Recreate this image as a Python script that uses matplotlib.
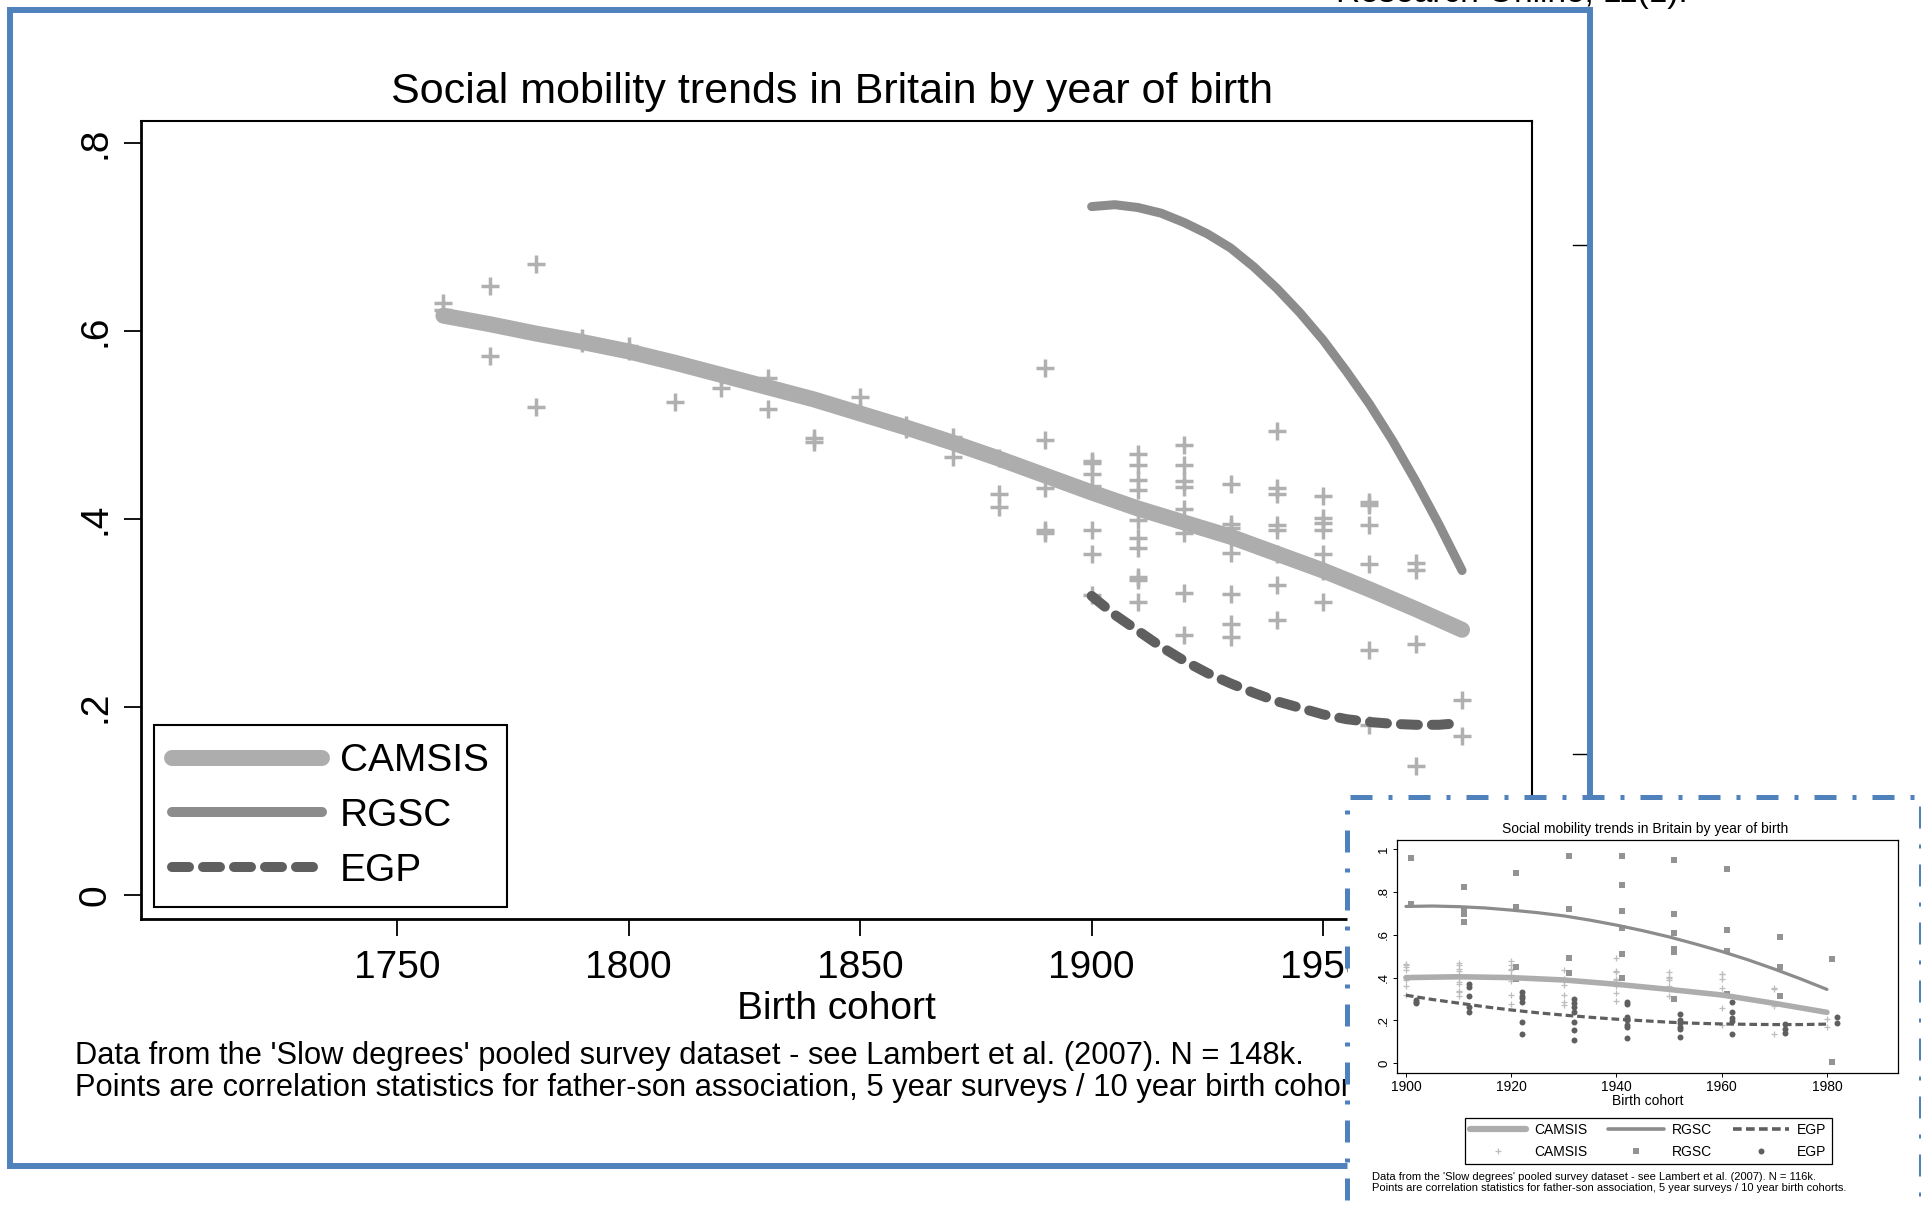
import matplotlib
matplotlib.use("Agg")
import matplotlib.pyplot as plt
from matplotlib.lines import Line2D
from matplotlib.patches import Rectangle

plt.rcParams['font.family'] = ['Liberation Sans', 'DejaVu Sans']

# =========================================================================
# DATA - father-son correlation statistics by 10-year birth cohort
# =========================================================================

# CAMSIS survey points (full pooled dataset)
camsis_cohort = [1760, 1770, 1780, 1790, 1800, 1810, 1820, 1830, 1840, 1850,
                 1860, 1870, 1880, 1890, 1900, 1910, 1920, 1930, 1940, 1950,
                 1960, 1970, 1980]
camsis_corr = [
    [0.630, 0.622],
    [0.648, 0.573],
    [0.671, 0.519],
    [0.592, 0.587],
    [0.584, 0.578],
    [0.524],
    [0.552, 0.539],
    [0.550, 0.517],
    [0.486, 0.482],
    [0.530, 0.516],
    [0.500, 0.496],
    [0.487, 0.466],
    [0.465, 0.426, 0.413],
    [0.560, 0.484, 0.433, 0.388, 0.385],
    [0.462, 0.459, 0.448, 0.435, 0.388, 0.363, 0.319],
    [0.469, 0.457, 0.441, 0.431, 0.399, 0.380, 0.369, 0.338, 0.335, 0.312],
    [0.479, 0.457, 0.440, 0.434, 0.410, 0.385, 0.321, 0.276],
    [0.437, 0.394, 0.390, 0.385, 0.364, 0.320, 0.288, 0.274],
    [0.493, 0.433, 0.426, 0.393, 0.388, 0.363, 0.330, 0.292],
    [0.424, 0.401, 0.396, 0.388, 0.363, 0.345, 0.312],
    [0.418, 0.415, 0.393, 0.352, 0.260, 0.181],
    [0.353, 0.346, 0.267, 0.137],
    [0.207, 0.169],
]

# RGSC and EGP survey points (post-1900 cohorts, shifted 1 and 2 years)
rgsc_cohort = [1901, 1911, 1921, 1931, 1941, 1951, 1961, 1971, 1981]
rgsc_corr = [
    [0.957, 0.742],
    [0.824, 0.715, 0.697, 0.661],
    [0.886, 0.731, 0.451, 0.393],
    [0.967, 0.720, 0.490, 0.423],
    [0.967, 0.832, 0.712, 0.630, 0.510, 0.397],
    [0.949, 0.695, 0.610, 0.532, 0.518, 0.299],
    [0.905, 0.621, 0.526, 0.322],
    [0.591, 0.448, 0.314],
    [0.485, 0.008],
]
egp_cohort = [1902, 1912, 1922, 1932, 1942, 1952, 1962, 1972, 1982]
egp_corr = [
    [0.295, 0.287, 0.280],
    [0.369, 0.358, 0.316, 0.264, 0.238],
    [0.334, 0.316, 0.303, 0.285, 0.191, 0.135],
    [0.299, 0.280, 0.261, 0.241, 0.191, 0.156, 0.109],
    [0.288, 0.277, 0.218, 0.200, 0.179, 0.168, 0.117],
    [0.229, 0.202, 0.190, 0.171, 0.159, 0.124],
    [0.286, 0.238, 0.213, 0.198, 0.135],
    [0.184, 0.159, 0.143],
    [0.216, 0.190],
]

# Smoothed trends
camsis_fit_year = [1760, 1770, 1780, 1790, 1800, 1810, 1820, 1830, 1840, 1850,
                   1860, 1870, 1880, 1890, 1900, 1910, 1920, 1930, 1940, 1950,
                   1960, 1970, 1980]
camsis_fit = [0.616, 0.607, 0.597, 0.588, 0.578, 0.566, 0.553, 0.540, 0.527,
              0.512, 0.497, 0.481, 0.464, 0.446, 0.428, 0.411, 0.396, 0.381,
              0.363, 0.345, 0.325, 0.304, 0.282]

# CAMSIS trend fitted on the 1900+ surveys only (116k sample)
camsis_fit_1900_year = [1900, 1910, 1920, 1930, 1940, 1950, 1960, 1970, 1980]
camsis_fit_1900 = [0.400, 0.404, 0.400, 0.389, 0.369, 0.345, 0.319, 0.280, 0.238]

rgsc_fit_year = [1900, 1905, 1910, 1915, 1920, 1925, 1930, 1935, 1940, 1945,
                 1950, 1955, 1960, 1965, 1970, 1975, 1980]
rgsc_fit = [0.732, 0.734, 0.731, 0.725, 0.715, 0.703, 0.688, 0.668, 0.645,
            0.619, 0.590, 0.557, 0.522, 0.483, 0.440, 0.394, 0.345]

egp_fit_year = [1900, 1905, 1910, 1915, 1920, 1925, 1930, 1935, 1940, 1945,
                1950, 1955, 1960, 1965, 1970, 1975, 1980]
egp_fit = [0.318, 0.298, 0.281, 0.264, 0.249, 0.236, 0.225, 0.215, 0.206,
           0.199, 0.192, 0.187, 0.184, 0.182, 0.181, 0.181, 0.183]

MAIN_XTICKS = [1750, 1800, 1850, 1900, 1950]
MAIN_YTICKS = [0, 0.2, 0.4, 0.6, 0.8]
MAIN_YLABELS = ['0', '.2', '.4', '.6', '.8']
INSET_XTICKS = [1900, 1920, 1940, 1960, 1980]
INSET_YTICKS = [0, 0.2, 0.4, 0.6, 0.8, 1.0]
INSET_YLABELS = ['0', '.2', '.4', '.6', '.8', '1']

TITLE = "Social mobility trends in Britain by year of birth"
NOTE_MAIN = ["Data from the 'Slow degrees' pooled survey dataset - see Lambert et al. (2007). N = 148k.",
             "Points are correlation statistics for father-son association, 5 year surveys / 10 year birth cohorts."]
NOTE_INSET = ["Data from the 'Slow degrees' pooled survey dataset - see Lambert et al. (2007). N = 116k.",
              "Points are correlation statistics for father-son association, 5 year surveys / 10 year birth cohorts."]

# =========================================================================
# STYLE
# =========================================================================
C_CAMSIS = '#adadad'
C_CAMSIS_PT = '#b0b0b0'
C_RGSC = '#8c8c8c'
C_RGSC_PT = '#939393'
C_EGP = '#5f5f5f'
C_FRAME = '#4f81bd'

W, H = 1921, 1210


def fx(px):
    return px / W


def fy(py):
    return 1 - py / H


def flatten(cohorts, values):
    xs = [yr for yr, vals in zip(cohorts, values) for _ in vals]
    ys = [v for vals in values for v in vals]
    return xs, ys


fig = plt.figure(figsize=(W / 100, H / 100), dpi=100)

# =========================================================================
# MAIN PANEL
# =========================================================================
ax = fig.add_axes([fx(141), fy(919), (1532 - 141) / W, (919 - 121) / H])

x, y = flatten(camsis_cohort, camsis_corr)
ax.plot(x, y, ls='none', marker='+', ms=12.5, mew=2.5, color=C_CAMSIS_PT, zorder=2)
ax.plot(camsis_fit_year, camsis_fit, color=C_CAMSIS, lw=11.5,
        solid_capstyle='round', solid_joinstyle='round', zorder=3)
ax.plot(rgsc_fit_year, rgsc_fit, color=C_RGSC, lw=6.5,
        solid_capstyle='round', solid_joinstyle='round', zorder=3)
ax.plot(egp_fit_year, egp_fit, color=C_EGP, lw=7.2, dashes=(1.7, 1.4),
        dash_capstyle='round', zorder=3)

ax.set_xlim(1694.7, 1995.1)
ax.set_ylim(-0.0255, 0.823)
ax.set_xticks(MAIN_XTICKS)
ax.set_yticks(MAIN_YTICKS)
ax.set_yticklabels(MAIN_YLABELS, rotation=90, va='center')
ax.tick_params(direction='out', length=12, width=1.3, labelsize=28, colors='black')
ax.tick_params(axis='y', pad=8)
ax.tick_params(axis='x', pad=10)
for side, sp in ax.spines.items():
    sp.set_linewidth(2.0 if side in ('left', 'bottom') else 1.5)
    sp.set_color('black')

ax.set_xlabel('Birth cohort', fontsize=28)
ax.xaxis.set_label_coords(0.5, -0.09)

leg_handles = [
    Line2D([], [], color=C_CAMSIS, lw=11.5, solid_capstyle='round'),
    Line2D([], [], color=C_RGSC, lw=7.2, solid_capstyle='round'),
    Line2D([], [], color=C_EGP, lw=7.2, dashes=(1.7, 1.4), dash_capstyle='round'),
]
leg = ax.legend(leg_handles, ['CAMSIS', 'RGSC', 'EGP'], loc='lower left',
                bbox_to_anchor=(fx(154), fy(907)), bbox_transform=fig.transFigure,
                borderaxespad=0, fontsize=28, handlelength=3.85, handletextpad=0.46,
                labelspacing=0.48, borderpad=0.47, fancybox=False, framealpha=1,
                edgecolor='black')
leg.get_frame().set_linewidth(1.5)

fig.text(fx(832), fy(92), TITLE, ha='center', va='center', fontsize=31)
fig.text(fx(75), fy(1056), NOTE_MAIN[0], ha='left', va='center', fontsize=22.2)
fig.text(fx(75), fy(1088), NOTE_MAIN[1], ha='left', va='center', fontsize=22.2)

# slide furniture: journal reference clipped at the top edge, outer frame
fig.text(fx(1336), fy(2), 'Research Online, 11(1).', ha='left', va='baseline', fontsize=24)
for ty in (245, 754):
    fig.add_artist(Line2D([fx(1573), fx(1587)], [fy(ty), fy(ty)], color='black', lw=1.0))
fig.add_artist(Rectangle((fx(10), fy(1166)), (1590 - 10) / W, (1166 - 10) / H,
                         transform=fig.transFigure, fill=False,
                         edgecolor=C_FRAME, lw=4.3, zorder=2))

# =========================================================================
# INSET PANEL (1900+ cohorts, all three schemes)
# =========================================================================
fig.add_artist(Rectangle((fx(1347), fy(1240)), (1920.5 - 1347) / W, (1240 - 797) / H,
                         transform=fig.transFigure, facecolor='white',
                         edgecolor=C_FRAME, lw=3.6, ls=(0, (4.4, 3.2, 0.8, 3.2)),
                         zorder=4))

ax2 = fig.add_axes([fx(1397), fy(1073), (1898 - 1397) / W, (1073 - 840) / H], zorder=5)

x, y = flatten([c for c in camsis_cohort if c >= 1900],
               [v for c, v in zip(camsis_cohort, camsis_corr) if c >= 1900])
ax2.plot(x, y, ls='none', marker='+', ms=5, mew=0.9, color='#bdbdbd', zorder=2)
x, y = flatten(rgsc_cohort, rgsc_corr)
ax2.plot(x, y, ls='none', marker='s', ms=4.2, mew=0, color=C_RGSC_PT, zorder=2)
x, y = flatten(egp_cohort, egp_corr)
ax2.plot(x, y, ls='none', marker='o', ms=4.3, mew=0, color=C_EGP, zorder=2)

ax2.plot(camsis_fit_1900_year, camsis_fit_1900, color=C_CAMSIS, lw=4.0,
         solid_capstyle='round', zorder=3)
ax2.plot(rgsc_fit_year, rgsc_fit, color=C_RGSC, lw=2.3, solid_capstyle='round', zorder=3)
ax2.plot(egp_fit_year, egp_fit, color=C_EGP, lw=2.3, dashes=(2.4, 1.2), zorder=3)

ax2.set_xlim(1898.3, 1993.5)
ax2.set_ylim(-0.045, 1.042)
ax2.set_xticks(INSET_XTICKS)
ax2.set_yticks(INSET_YTICKS)
ax2.set_yticklabels(INSET_YLABELS, rotation=90, va='center')
ax2.tick_params(direction='out', length=3, width=0.7, labelsize=10, pad=2)
ax2.tick_params(axis='y', labelsize=9.5)
for sp in ax2.spines.values():
    sp.set_linewidth(0.9)
ax2.set_xlabel('Birth cohort', fontsize=10, labelpad=0)

inset_handles = [
    Line2D([], [], color=C_CAMSIS, lw=4.5, solid_capstyle='round'),
    Line2D([], [], ls='none', marker='+', ms=5, mew=0.9, color='#bdbdbd'),
    Line2D([], [], color=C_RGSC, lw=2.6, solid_capstyle='round'),
    Line2D([], [], ls='none', marker='s', ms=4.2, mew=0, color=C_RGSC_PT),
    Line2D([], [], color=C_EGP, lw=2.6, dashes=(2.4, 1.2)),
    Line2D([], [], ls='none', marker='o', ms=4.3, mew=0, color=C_EGP),
]
leg2 = ax2.legend(inset_handles, ['CAMSIS', 'CAMSIS', 'RGSC', 'RGSC', 'EGP', 'EGP'],
                  ncol=3, loc='upper left', bbox_to_anchor=(fx(1465), fy(1118)),
                  bbox_transform=fig.transFigure, borderaxespad=0, fontsize=10,
                  handlelength=4.0, handletextpad=0.6, columnspacing=1.5,
                  labelspacing=0.55, borderpad=0.38, fancybox=False, framealpha=1,
                  edgecolor='black')
leg2.get_frame().set_linewidth(0.9)

fig.text(fx(1645), fy(829), TITLE, ha='center', va='center', fontsize=10, zorder=6)
fig.text(fx(1372), fy(1177), NOTE_INSET[0], ha='left', va='center', fontsize=8.0, zorder=6)
fig.text(fx(1372), fy(1188), NOTE_INSET[1], ha='left', va='center', fontsize=8.0, zorder=6)

fig.savefig('out.png', dpi=100)
